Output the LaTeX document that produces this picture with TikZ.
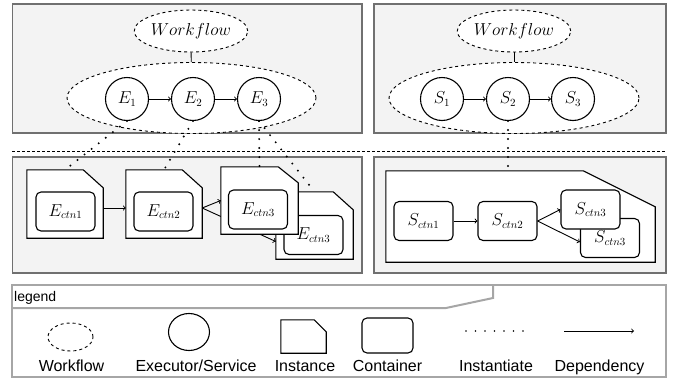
\documentclass[tikz,border=0pt]{standalone}
\usepackage{fontspec}
\setsansfont{Liberation Sans}
\usetikzlibrary{shapes.geometric}

\definecolor{panelfill}{HTML}{F3F3F3}
\definecolor{panelline}{HTML}{707070}
\definecolor{legendline}{HTML}{A6A6A6}

\tikzset{
  panel/.style={draw=panelline, line width=1.3pt, fill=panelfill},
  flowbox/.style={ellipse, draw, dashed, line width=0.9pt, fill=white, inner sep=0pt},
  exec/.style={circle, draw, line width=1.1pt, fill=white, minimum size=43pt, inner sep=0pt},
  inst/.style={rectangle, inner sep=0pt},
  instline/.style={draw, line width=1.1pt, fill=white, line join=miter},
  ctn/.style={rectangle, rounded corners=5pt, draw, line width=1.1pt, fill=white,
    minimum width=59pt, minimum height=39pt, inner sep=0pt},
  dep/.style={->, line width=0.9pt},
  inst link/.style={line width=2.2pt, line cap=round, dash pattern=on 0pt off 9pt},
  lgtext/.style={font=\sffamily\fontsize{16}{18}\selectfont, anchor=base}
}
% outline of an instance: node name, cut along x, cut along y
\newcommand\instshape[3]{%
  \path[instline] (#1.south west) -- (#1.north west) -- ([xshift=-#2]#1.north east)
    -- ([yshift=-#3]#1.north east) -- (#1.south east) -- cycle;}

\begin{document}
\begin{tikzpicture}[x=1pt, y=-1pt, font=\fontsize{16}{19}\selectfont]
  \useasboundingbox (0,0) rectangle (673,381);

  % panels
  \draw[panel] (12.5,4) rectangle (362,133);
  \draw[panel] (374,4) rectangle (666,133);
  \draw[panel] (12.5,157) rectangle (362,273);
  \draw[panel] (374,157) rectangle (666,273);
  \draw[line width=0.8pt, dash pattern=on 3pt off 2pt] (12,151) -- (666,151);

  % executors
  \node[flowbox, minimum width=108pt, minimum height=42pt] (wfL) at (191,31) {$Workflow$};
  \node[flowbox, minimum width=249pt, minimum height=71pt] (grpL) at (191.5,98) {};
  \draw[line width=0.9pt] (wfL) -- (grpL);
  \node[exec] (e1) at (127,99) {$E_1$};
  \node[exec] (e2) at (193,99) {$E_2$};
  \node[exec] (e3) at (259,99) {$E_3$};
  \draw[dep] (e1) -- (e2);
  \draw[dep] (e2) -- (e3);

  % services
  \node[flowbox, minimum width=108pt, minimum height=42pt] (wfR) at (514,31) {$Workflow$};
  \node[flowbox, minimum width=250pt, minimum height=71pt] (grpR) at (514,98) {};
  \draw[line width=0.9pt] (wfR) -- (grpR);
  \node[exec] (s1) at (442,99) {$S_1$};
  \node[exec] (s2) at (508,99) {$S_2$};
  \node[exec] (s3) at (573,99) {$S_3$};
  \draw[dep] (s1) -- (s2);
  \draw[dep] (s2) -- (s3);

  % executor instances
  \node[inst, minimum width=76pt, minimum height=68pt] (inst1) at (65,204) {};
  \instshape{inst1}{20pt}{18pt}
  \node[ctn] (ctn1) at (65.5,211.5) {$E_{ctn1}$};
  \node[inst, minimum width=76pt, minimum height=68pt] (inst2) at (164,204) {};
  \instshape{inst2}{20pt}{18pt}
  \node[ctn] (ctn2) at (163.5,211.5) {$E_{ctn2}$};
  \node[inst, minimum width=77pt, minimum height=67pt] (inst4) at (314.5,225.5) {};
  \instshape{inst4}{20pt}{18pt}
  \node[ctn] (ctn4) at (313.5,235) {$E_{ctn3}$};
  \draw[dep] ([yshift=-4pt]inst2.east) -- ([yshift=-16pt]inst4.west);
  \node[inst, minimum width=77pt, minimum height=67pt] (inst3) at (259.5,200.5) {};
  \instshape{inst3}{20pt}{16pt}
  \node[ctn] (ctn3) at (258,209.5) {$E_{ctn3}$};
  \draw[dep] ([yshift=-4pt]inst1.east) -- ([yshift=-4pt]inst2.west);
  \draw[dep] ([yshift=-4pt]inst2.east) -- (inst3.west);

  % service instance
  \node[inst, minimum width=269pt, minimum height=91pt] (instR) at (520.5,216.5) {};
  \instshape{instR}{72pt}{36pt}
  \node[ctn] (sc1) at (423.5,221) {$S_{ctn1}$};
  \node[ctn] (sc2) at (507.5,221) {$S_{ctn2}$};
  \node[ctn] (sc4) at (610,238) {$S_{ctn3}$};
  \node[ctn] (sc3) at (590.5,209.5) {$S_{ctn3}$};
  \draw[dep] (sc1) -- (sc2);
  \draw[dep] (sc2.east) -- (sc3.west);
  \draw[dep] (sc2.east) -- ([yshift=-4pt]sc4.west);

  % instantiate
  \draw[inst link] (e1.south) -- (inst1.north);
  \draw[inst link] (e2.south) -- (inst2.north);
  \draw[inst link] (e3.south) -- (inst3.north);
  \draw[inst link] (e3.south) -- (inst4.north);
  \draw[inst link] (s2.south) -- (s2.south |- instR.north);

  % legend
  \draw[legendline, line width=2pt] (12,285) rectangle (666,377);
  \draw[legendline, line width=2pt] (12,308) -- (446,308) -- (493,298) -- (493,285);
  \node[font=\sffamily\fontsize{14}{16}\selectfont, anchor=base west, inner sep=0pt]
    (lgName) at (14,301) {legend};
  \node[flowbox, minimum width=45pt, minimum height=28pt] (lgWf) at (70.5,337) {};
  \node[ellipse, draw, line width=1.1pt, minimum width=41pt, minimum height=37pt] (lgEx) at (189,332) {};
  \node[inst, minimum width=45pt, minimum height=33pt] (lgIn) at (303.5,336.5) {};
  \instshape{lgIn}{12pt}{12pt}
  \node[ctn, minimum width=51pt, minimum height=35pt] (lgCt) at (387.5,335.5) {};
  \coordinate (lgDotA) at (466,331);
  \coordinate (lgDotB) at (523,331);
  \draw[inst link, dash pattern=on 0pt off 9.5pt, line width=1.8pt] (lgDotA) -- (lgDotB);
  \coordinate (lgDepA) at (564,331);
  \coordinate (lgDepB) at (634,331);
  \draw[dep] (lgDepA) -- (lgDepB);
  \node[lgtext] (lgWfT) at (71.5,371) {Workflow};
  \node[lgtext] (lgExT) at (196,371) {Executor/Service};
  \node[lgtext] (lgInT) at (305,371) {Instance};
  \node[lgtext] (lgCtT) at (387.5,371) {Container};
  \node[lgtext] (lgDotT) at (496,371) {Instantiate};
  \node[lgtext] (lgDepT) at (599.5,371) {Dependency};
\end{tikzpicture}
\end{document}
